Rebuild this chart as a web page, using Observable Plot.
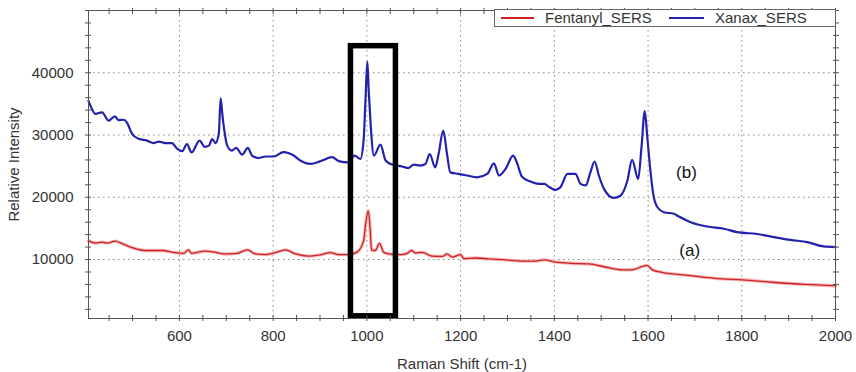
<!DOCTYPE html>
<html>
<head>
<meta charset="utf-8">
<script src="https://cdn.jsdelivr.net/npm/d3@7"></script>
<script src="https://cdn.jsdelivr.net/npm/@observablehq/plot@0.6"></script>
<style>
  html, body { margin: 0; padding: 0; background: #fff; }
  #wrap { position: relative; width: 856px; height: 372px; font-family: "Liberation Sans", Arial, sans-serif; color: #333; }
  #legend { position: absolute; left: 494px; top: 9px; width: 342px; height: 18px; box-sizing: border-box;
            border: 1px solid #666; background: #fff; font-size: 15px; line-height: 16px; }
  #legend .sw { position: absolute; top: 7px; height: 2px; }
  #legend .lb { position: absolute; top: 0px; white-space: nowrap; color: #333; }
</style>
</head>
<body>
<div id="wrap"></div>
<script>
// ---- data ----
const seriesNames = ["Fentanyl_SERS", "Xanax_SERS"];
const seriesColors = ["#cc2222", "#2222aa"];

const fentanylShift = [406,421,435,446,463,478,499,527,563,591,609,619,626,655,677,698,723,745,762,784,805,826,848,876,897,922,940,961,979,993,998,1003,1007,1010,1018,1027,1036,1047,1072,1086,1095,1104,1118,1139,1161,1171,1182,1200,1207,1232,1260,1296,1331,1360,1378,1403,1438,1474,1509,1545,1566,1588,1598,1609,1630,1687,1758,1801,1865,1936,2000];
const fentanylIntensity = [13000,12650,12800,12650,12950,12550,11900,11450,11450,11100,11000,11550,11000,11350,11150,10900,11000,11550,10900,10800,11100,11550,10900,10550,10700,11100,10800,10800,11200,13000,16000,17800,15000,11500,11450,12600,11150,10900,10800,11000,11450,11050,11150,10550,10500,10900,10400,10800,10150,10250,10100,9950,9750,9750,9950,9600,9400,9300,8800,8350,8350,8900,9050,8350,7950,7450,6900,6750,6350,6000,5800];

const xanaxShift = [406,412,421,435,449,462,470,481,488,499,513,531,545,556,570,584,595,606,616,626,643,654,663,670,677,684,688,692,695,702,712,721,734,746,755,769,784,801,822,844,858,880,901,926,940,961,974,986,993,997,1001,1004,1008,1015,1029,1040,1054,1075,1089,1100,1114,1125,1134,1146,1153,1163,1171,1178,1196,1214,1235,1257,1271,1282,1296,1312,1320,1331,1349,1367,1379,1388,1403,1413,1428,1445,1456,1467,1477,1486,1495,1506,1527,1541,1556,1566,1579,1586,1593,1598,1605,1611,1620,1634,1655,1666,1691,1726,1762,1790,1833,1869,1904,1940,1975,2000];
const xanaxIntensity = [35500,34400,33400,33650,32300,33000,32400,32450,32000,30200,29400,29100,28700,28950,28700,28700,27800,27400,28550,27200,29100,28100,28300,29350,28700,30200,35900,33000,31200,28300,27500,27950,26850,27950,26700,26300,26550,26550,27250,26700,25900,25350,25800,26450,25800,25600,26700,26150,29100,35500,41800,37000,31800,26700,28450,25900,25250,24950,24700,25250,25100,25350,26950,24800,26950,30700,26950,24000,23750,23500,23200,23750,25450,23500,24550,26700,25600,23300,22550,22150,22150,21700,21200,21600,23750,23750,22150,21900,24000,25750,23500,21350,19900,20250,22700,26000,22950,28000,33850,30000,24300,20550,18400,17600,17350,16900,16000,15300,14950,14400,14100,13600,13150,12800,12100,12000];

const xMajorTicks = [600, 800, 1000, 1200, 1400, 1600, 1800, 2000];
const xMinorTicks = d3.range(450, 2001, 50);
const yMajorTicks = [10000, 20000, 30000, 40000];
const yMinorTicks = d3.range(2000, 50001, 2000);

const highlightBox = [{x1: 966, x2: 1062, y1: 880, y2: 44270}];
const labelText = ["(b)", "(a)"];
const labelShift = [1682, 1689];
const labelIntensity = [23900, 11450];

// ---- tables built from the arrays ----
const fentanyl = fentanylShift.map((s, i) => ({shift: s, intensity: fentanylIntensity[i]}));
const xanax = xanaxShift.map((s, i) => ({shift: s, intensity: xanaxIntensity[i]}));
const labels = labelText.map((t, i) => ({text: t, shift: labelShift[i], intensity: labelIntensity[i]}));

const axisColor = "#555";
const chart = Plot.plot({
  width: 856,
  height: 372,
  marginLeft: 88,
  marginRight: 21,
  marginTop: 10,
  marginBottom: 54,
  style: {fontFamily: "'Liberation Sans', Arial, sans-serif", fontSize: "15px", color: "#333", background: "#fff", overflow: "visible"},
  x: {domain: [406, 2000]},
  y: {domain: [530, 50000]},
  marks: [
    Plot.gridX(xMajorTicks, {stroke: "#888", strokeOpacity: 1, strokeDasharray: "1.5,3.5"}),
    Plot.gridY(yMajorTicks, {stroke: "#888", strokeOpacity: 1, strokeDasharray: "1.5,3.5"}),
    Plot.line(fentanyl, {x: "shift", y: "intensity", stroke: "#f5b8b8", strokeWidth: 3.4, curve: "monotone-x"}),
    Plot.line(fentanyl, {x: "shift", y: "intensity", stroke: seriesColors[0], strokeWidth: 1.3, curve: "monotone-x"}),
    Plot.line(xanax, {x: "shift", y: "intensity", stroke: seriesColors[1], strokeWidth: 2.2, curve: "monotone-x"}),
    Plot.rect(highlightBox, {x1: "x1", x2: "x2", y1: "y1", y2: "y2", stroke: "#000", strokeWidth: 5.5, fill: "none"}),
    Plot.text(labels, {x: "shift", y: "intensity", text: "text", fontSize: 17, fill: "#111"}),
    Plot.frame({stroke: axisColor}),
    // bottom axis
    Plot.axisX(xMajorTicks, {anchor: "bottom", tickSize: 0, tickPadding: 12, tickFormat: "d", label: "Raman Shift (cm-1)", labelAnchor: "center", labelArrow: "none", labelOffset: 50, fill: "#333"}),
    Plot.axisX(xMinorTicks, {anchor: "bottom", fill: "none", stroke: axisColor, tickSize: 6, dy: -3, label: null}),
    Plot.axisX(xMinorTicks, {anchor: "top", fill: "none", stroke: axisColor, tickSize: 6, dy: 3, label: null}),
    // left axis
    Plot.axisY(yMajorTicks, {anchor: "left", tickSize: 0, tickPadding: 15, tickFormat: "d", label: "Relative Intensity", labelAnchor: "center", labelArrow: "none", labelOffset: 80, fill: "#333"}),
    Plot.axisY(yMinorTicks, {anchor: "left", fill: "none", stroke: axisColor, tickSize: 6, dx: 3, label: null}),
    Plot.axisY(yMinorTicks, {anchor: "right", fill: "none", stroke: axisColor, tickSize: 6, dx: -3, label: null})
  ]
});

const wrap = document.getElementById("wrap");
wrap.appendChild(chart);

// legend (inside the plot, top right)
const legend = document.createElement("div");
legend.id = "legend";
const swatchLeft = [6, 174];
const swatchWidth = [33, 35];
const textLeft = [50, 220];
seriesNames.forEach((name, i) => {
  const sw = document.createElement("div");
  sw.className = "sw";
  sw.style.left = swatchLeft[i] + "px";
  sw.style.width = swatchWidth[i] + "px";
  sw.style.background = seriesColors[i];
  legend.appendChild(sw);
  const lb = document.createElement("div");
  lb.className = "lb";
  lb.style.left = textLeft[i] + "px";
  lb.textContent = name;
  legend.appendChild(lb);
});
wrap.appendChild(legend);
</script>
</body>
</html>
